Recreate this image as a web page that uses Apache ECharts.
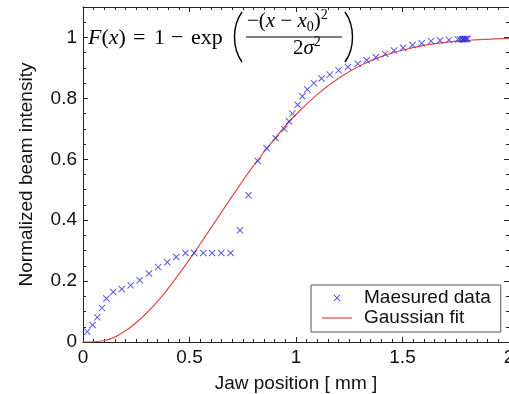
<!DOCTYPE html>
<html>
<head>
<meta charset="utf-8">
<script src="https://cdn.jsdelivr.net/npm/echarts@6.0.0/dist/echarts.min.js"></script>
<style>
  html, body { margin: 0; padding: 0; background: #fff; }
  #chart { width: 509px; height: 394px; }
</style>
</head>
<body>
<div id="chart"></div>
<script>
const measuredX = [0.02, 0.045, 0.067, 0.089, 0.11, 0.142, 0.182, 0.224, 0.266, 0.31,
  0.353, 0.396, 0.438, 0.481, 0.522, 0.565, 0.606, 0.649, 0.693, 0.737,
  0.777, 0.821, 0.862, 0.905, 0.945, 0.967, 0.983, 1.008, 1.03, 1.053,
  1.084, 1.12, 1.159, 1.2, 1.244, 1.29, 1.332, 1.375, 1.419, 1.46,
  1.503, 1.547, 1.59, 1.634, 1.676, 1.718, 1.76, 1.77, 1.78, 1.785,
  1.79, 1.795, 1.8, 1.805];
const measuredY = [0.034, 0.056, 0.081, 0.112, 0.143, 0.164, 0.174, 0.186, 0.203, 0.225,
  0.246, 0.262, 0.279, 0.292, 0.292, 0.292, 0.292, 0.292, 0.292, 0.367,
  0.482, 0.594, 0.636, 0.669, 0.699, 0.725, 0.75, 0.779, 0.807, 0.829,
  0.85, 0.865, 0.878, 0.892, 0.903, 0.914, 0.925, 0.935, 0.946, 0.957,
  0.966, 0.975, 0.981, 0.988, 0.99, 0.992, 0.993, 0.994, 0.994, 0.995,
  0.994, 0.995, 0.995, 0.995];

// fitted curve, read at 0.1 mm steps
const fitX = [0, 0.1, 0.2, 0.3, 0.4, 0.5, 0.6, 0.7, 0.8, 0.9, 1.0,
  1.1, 1.2, 1.3, 1.4, 1.5, 1.6, 1.7, 1.8, 1.9, 2.0];
const fitY = [0, 0.005, 0.037, 0.096, 0.176, 0.271, 0.374, 0.478, 0.578, 0.668, 0.747,
  0.813, 0.866, 0.907, 0.937, 0.958, 0.974, 0.984, 0.99, 0.994, 0.997];

const xTicks = ['0', '0.5', '1', '1.5', '2'];
const yTicks = ['0', '0.2', '0.4', '0.6', '0.8', '1'];

const sans = 'Liberation Sans';
const serif = 'Liberation Serif';
const axisColor = '#222';
const fitColor = '#e34a4a';
const crossPath = 'path://M0,1 L1,0 L5,4 L9,0 L10,1 L6,5 L10,9 L9,10 L5,6 L1,10 L0,9 L4,5 Z';

const chart = echarts.init(document.getElementById('chart'));

function fmt(list) {
  return function (v) {
    const s = String(Math.round(v * 100) / 100);
    return list.indexOf(s) >= 0 ? s : '';
  };
}

const baseX = {
  type: 'value', min: 0, max: 2, interval: 0.5,
  axisLine: { show: true, onZero: false, lineStyle: { color: axisColor, width: 1 } },
  axisTick: { inside: true, length: 5, lineStyle: { color: axisColor } },
  minorTick: { show: true, splitNumber: 10, length: 3, lineStyle: { color: axisColor } },
  splitLine: { show: false }
};
const baseY = {
  type: 'value', min: 0, max: 1.1, interval: 0.2,
  axisLine: { show: true, onZero: false, lineStyle: { color: axisColor, width: 1 } },
  axisTick: { inside: true, length: 5, lineStyle: { color: axisColor } },
  minorTick: { show: true, splitNumber: 4, length: 3, lineStyle: { color: axisColor } },
  splitLine: { show: false }
};

// one piece of the formula, x/y = left edge and vertical middle
function mathText(x, y, text, size) {
  return {
    type: 'text', x: x, y: y, z: 100,
    style: {
      text: text, fill: '#000', fontFamily: serif, fontSize: size,
      align: 'left', verticalAlign: 'middle',
      rich: {
        i: { fontFamily: serif, fontStyle: 'italic', fontSize: size },
        r: { fontFamily: serif, fontSize: size },
        sub: { fontFamily: serif, fontSize: 14, verticalAlign: 'bottom', lineHeight: 14 },
        sup: { fontFamily: serif, fontSize: 14, verticalAlign: 'top', lineHeight: 26 }
      }
    }
  };
}

function paren(x0, x1) {
  return {
    type: 'bezierCurve', z: 100,
    shape: { x1: x0, y1: 12, x2: x0, y2: 62, cpx1: x1, cpy1: 26, cpx2: x1, cpy2: 48 },
    style: { stroke: '#000', lineWidth: 1.4, fill: null }
  };
}

const option = {
  animation: false,
  grid: { left: 83, right: 0, top: 7, bottom: 52, outerBoundsMode: 'none', containLabel: false },
  xAxis: [
    Object.assign({}, baseX, {
      position: 'bottom',
      axisLabel: { fontSize: 19, fontFamily: sans, color: '#111', margin: 6, formatter: fmt(xTicks) },
      name: 'Jaw position [ mm ]', nameLocation: 'middle', nameGap: 32,
      nameTextStyle: { fontSize: 19, fontFamily: sans, color: '#111' }
    }),
    Object.assign({}, baseX, { position: 'top', axisLabel: { show: false } })
  ],
  yAxis: [
    Object.assign({}, baseY, {
      position: 'left',
      axisLabel: { fontSize: 19, fontFamily: sans, color: '#111', margin: 6, showMaxLabel: false, formatter: fmt(yTicks) },
      name: 'Normalized beam intensity', nameLocation: 'middle', nameGap: 47,
      nameTextStyle: { fontSize: 19, fontFamily: sans, color: '#111' }
    }),
    Object.assign({}, baseY, { position: 'right', axisLabel: { show: false } })
  ],
  legend: {
    orient: 'vertical', left: 311, top: 285,
    padding: [3, 10, 4, 11], itemGap: 0,
    itemWidth: 30, itemHeight: 7,
    backgroundColor: '#fff', borderColor: '#555', borderWidth: 1,
    textStyle: { fontSize: 19, fontFamily: sans, color: '#111', lineHeight: 20, padding: [0, 0, 0, 7] },
    data: [
      { name: 'Maesured data' },
      { name: 'Gaussian fit', icon: 'path://M0,0 L30,0 L30,1.2 L0,1.2 Z', itemStyle: { color: fitColor } }
    ]
  },
  graphic: [
    mathText(88, 38, '{i|F}{r|(}{i|x}{r|)}', 22),
    mathText(133, 38, '=', 22),
    mathText(154, 38, '1', 22),
    mathText(171, 38, '−', 22),
    mathText(191, 38, 'exp', 22),
    mathText(247, 21, '{r|−(}{i|x}{r| − }{i|x}{sub|0}{r|)}{sup|2}', 21),
    mathText(293, 48, '{r|2}{i|σ}{sup|2}', 21),
    { type: 'line', z: 100, shape: { x1: 246, y1: 37, x2: 342, y2: 37 }, style: { stroke: '#000', lineWidth: 1 } },
    paren(242, 232),
    paren(345, 355)
  ],
  series: [
    {
      name: 'Maesured data', type: 'scatter',
      symbol: crossPath, symbolSize: 7,
      itemStyle: { color: '#2e2ed8' },
      data: measuredX.map((x, i) => [x, measuredY[i]]),
      z: 3
    },
    {
      name: 'Gaussian fit', type: 'line',
      smooth: 0.4, symbol: 'none', showSymbol: false,
      lineStyle: { color: fitColor, width: 1.2 },
      itemStyle: { color: fitColor },
      data: fitX.map((x, i) => [x, fitY[i]]),
      z: 2
    }
  ]
};

chart.setOption(option);
</script>
</body>
</html>
